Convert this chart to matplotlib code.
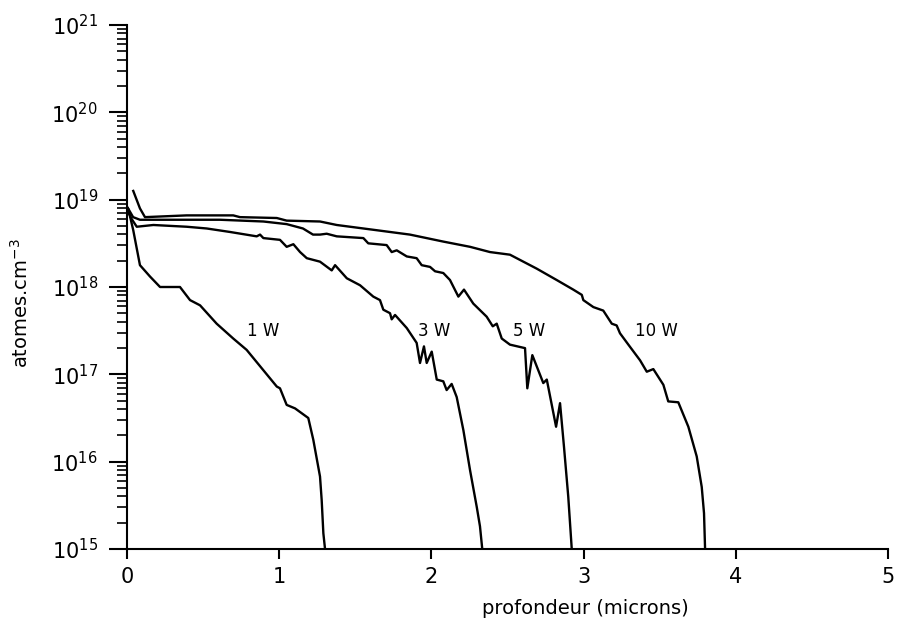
import numpy as np
import matplotlib.pyplot as plt

# profils de concentration (x en microns, log10 de la concentration)
x_1w = [0.0, 0.009, 0.041, 0.085, 0.151, 0.217, 0.348, 0.414, 0.480, 0.589,
        0.698, 0.786, 0.852, 0.918, 0.984, 1.005, 1.049, 1.104, 1.191, 1.224,
        1.268, 1.279, 1.290, 1.301]
ly_1w = [18.92, 18.89, 18.65, 18.25, 18.12, 18.00, 18.00, 17.85, 17.79, 17.58,
         17.41, 17.28, 17.14, 17.00, 16.86, 16.84, 16.65, 16.61, 16.50, 16.25,
         15.83, 15.56, 15.18, 15.0]

x_3w = [0.007, 0.03, 0.064, 0.173, 0.392, 0.524, 0.677, 0.852, 0.874, 0.896,
        1.005, 1.049, 1.093, 1.137, 1.181, 1.268, 1.345, 1.367, 1.444, 1.531,
        1.618, 1.662, 1.684, 1.728, 1.739, 1.761, 1.838, 1.903, 1.925, 1.951,
        1.969, 2.002, 2.035, 2.078, 2.100, 2.133, 2.166, 2.210, 2.254, 2.298,
        2.319, 2.334]
ly_3w = [18.86, 18.78, 18.69, 18.71, 18.69, 18.67, 18.63, 18.58, 18.60, 18.56,
         18.54, 18.46, 18.49, 18.40, 18.33, 18.29, 18.19, 18.25, 18.10, 18.02,
         17.89, 17.85, 17.74, 17.70, 17.63, 17.68, 17.53, 17.36, 17.13, 17.32,
         17.13, 17.26, 16.94, 16.92, 16.82, 16.89, 16.74, 16.36, 15.90, 15.48,
         15.26, 15.0]

x_5w = [0.007, 0.04, 0.085, 0.392, 0.611, 0.896, 1.049, 1.156, 1.222, 1.268,
        1.312, 1.378, 1.553, 1.585, 1.706, 1.739, 1.772, 1.838, 1.903, 1.936,
        1.991, 2.024, 2.078, 2.122, 2.177, 2.214, 2.275, 2.363, 2.403, 2.429,
        2.462, 2.516, 2.615, 2.630, 2.663, 2.735, 2.758, 2.819, 2.845, 2.871,
        2.899, 2.922]
ly_5w = [18.90, 18.80, 18.77, 18.77, 18.77, 18.75, 18.72, 18.67, 18.60, 18.60,
         18.61, 18.58, 18.56, 18.50, 18.48, 18.40, 18.42, 18.35, 18.33, 18.25,
         18.23, 18.18, 18.16, 18.08, 17.89, 17.97, 17.81, 17.66, 17.55, 17.58,
         17.41, 17.34, 17.30, 16.84, 17.22, 16.90, 16.94, 16.40, 16.67, 16.17,
         15.60, 15.0]

x_10w = [0.041, 0.085, 0.118, 0.392, 0.611, 0.698, 0.742, 0.984, 1.049, 1.268,
         1.378, 1.641, 1.859, 2.078, 2.254, 2.385, 2.516, 2.692, 2.823, 2.932,
         2.988, 2.998, 3.064, 3.129, 3.185, 3.217, 3.239, 3.294, 3.371, 3.415,
         3.458, 3.524, 3.556, 3.622, 3.688, 3.743, 3.776, 3.791, 3.798]
ly_10w = [19.10, 18.90, 18.80, 18.82, 18.82, 18.82, 18.80, 18.79, 18.76, 18.75,
          18.71, 18.65, 18.60, 18.52, 18.46, 18.40, 18.37, 18.21, 18.08, 17.97,
          17.91, 17.85, 17.77, 17.73, 17.58, 17.56, 17.47, 17.34, 17.16, 17.03,
          17.06, 16.88, 16.69, 16.68, 16.40, 16.06, 15.71, 15.41, 15.0]

series = [
    (x_1w, ly_1w, "1 W", 0.786),
    (x_3w, ly_3w, "3 W", 1.914),
    (x_5w, ly_5w, "5 W", 2.538),
    (x_10w, ly_10w, "10 W", 3.338),
]
label_level = 17.5

decades = np.arange(15, 22)
x_ticks = [0, 1, 2, 3, 4, 5]

plt.rcParams["font.family"] = ["DejaVu Sans"]
plt.rcParams["mathtext.fontset"] = "dejavusans"

fig = plt.figure(figsize=(8.97, 6.25), dpi=100)
ax = fig.add_axes([0.1416, 0.1216, 0.8484, 0.8384])

for xs, lys, name, xlab in series:
    ax.plot(xs, 10.0 ** np.array(lys), color="black", linewidth=1.7)
    ax.text(xlab, 10.0 ** label_level, name, fontsize=12,
            ha="left", va="center")

ax.set_yscale("log")
ax.set_xlim(0, 5)
ax.set_ylim(1e15, 1e21)
ax.set_xticks(x_ticks)
ax.set_yticks(10.0 ** decades)
ax.set_yticklabels([f"$10^{{{d}}}$" for d in decades])
minor = [m * 10.0 ** d for d in decades[:-1] for m in range(2, 10)]
ax.set_yticks(minor, minor=True)
ax.set_yticklabels([], minor=True)

ax.spines["top"].set_visible(False)
ax.spines["right"].set_visible(False)
ax.spines["left"].set_linewidth(1.5)
ax.spines["bottom"].set_linewidth(1.5)

ax.tick_params(axis="y", which="major", direction="out", length=13,
               width=1.5, labelsize=15, pad=8)
ax.tick_params(axis="y", which="minor", direction="out", length=7,
               width=1.2)
ax.tick_params(axis="x", which="major", direction="out", length=7,
               width=1.5, labelsize=15, pad=6)

ax.set_xlabel("profondeur (microns)", fontsize=14)
ax.xaxis.set_label_coords(0.602, -0.095)
ax.set_ylabel("atomes.cm$^{-3}$", fontsize=14)
ax.yaxis.set_label_coords(-0.125, 0.47)

fig.savefig("out.png", dpi=100)
